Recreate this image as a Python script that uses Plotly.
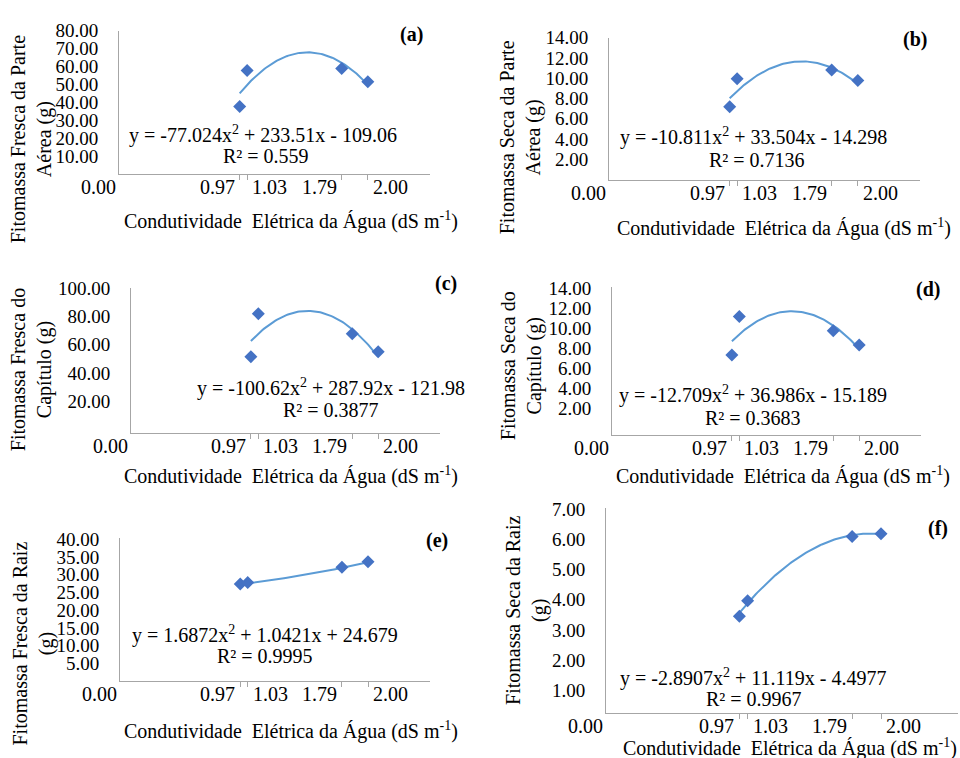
import numpy as np
import plotly.graph_objects as go

# ---------------- data ----------------
ce_x = [0.97, 1.03, 1.79, 2.00]
x_tick_text = ["0.97", "1.03", "1.79", "2.00"]

mf_parte_aerea = [37.6, 57.8, 58.9, 51.5]      # (a)
ms_parte_aerea = [7.19, 9.94, 10.82, 9.78]     # (b)
mf_capitulo = [51.5, 82.0, 67.7, 55.0]         # (c)
ms_capitulo = [7.36, 11.2, 9.77, 8.34]         # (d)
mf_raiz = [27.4, 27.8, 32.1, 33.7]             # (e)
ms_raiz = [3.45, 3.97, 6.10, 6.19]             # (f)

coef_a = [-77.024, 233.51, -109.06]
coef_b = [-10.811, 33.504, -14.298]
coef_c = [-100.62, 287.92, -121.98]
coef_d = [-12.709, 36.986, -15.189]
coef_e = [1.6872, 1.0421, 24.679]
coef_f = [-2.8907, 11.119, -4.4977]

eq_a = ["y = -77.024x<sup>2</sup> + 233.51x - 109.06", "R² = 0.559"]
eq_b = ["y = -10.811x<sup>2</sup> + 33.504x - 14.298", "R² = 0.7136"]
eq_c = ["y = -100.62x<sup>2</sup> + 287.92x - 121.98", "R² = 0.3877"]
eq_d = ["y = -12.709x<sup>2</sup> + 36.986x - 15.189", "R² = 0.3683"]
eq_e = ["y = 1.6872x<sup>2</sup> + 1.0421x + 24.679", "R² = 0.9995"]
eq_f = ["y = -2.8907x<sup>2</sup> + 11.119x - 4.4977", "R² = 0.9967"]

yt_a = [10, 20, 30, 40, 50, 60, 70, 80]
yt_b = [2, 4, 6, 8, 10, 12, 14]
yt_c = [20, 40, 60, 80, 100]
yt_d = [2, 4, 6, 8, 10, 12, 14]
yt_e = [5, 10, 15, 20, 25, 30, 35, 40]
yt_f = [1, 2, 3, 4, 5, 6, 7]

ytitle_a = "Fitomassa Fresca da Parte<br>Aérea (g)"
ytitle_b = "Fitomassa Seca da Parte<br>Aérea (g)"
ytitle_c = "Fitomassa Fresca do<br>Capítulo (g)"
ytitle_d = "Fitomassa Seca do<br>Capítulo (g)"
ytitle_e = "Fitomassa Fresca da Raiz<br>(g)"
ytitle_f = "Fitomassa Seca da Raiz<br>(g)"
xtitle = "Condutividade \u00a0Elétrica da Água (dS m<sup>-1</sup>)"
panel_tags = ["(a)", "(b)", "(c)", "(d)", "(e)", "(f)"]

# ---------------- layout geometry (pixels) ----------------
W, H = 960, 758
FONT = "'Liberation Serif', 'Times New Roman', Times, serif"
FS = 20
AXC = "#A6A6A6"
MK = "#4472C4"
LN = "#5B9BD5"

panels = [
    dict(y=mf_parte_aerea, coef=coef_a, eq=eq_a, yt=yt_a, yr=[0, 80], xr=[0, 2.5],
         px=(119, 430), py=(21, 166), yti=ytitle_a, ytp=(31, 131), xtp=(291, 213),
         eqp=(263, 126, 266, 148), tag=(411, 25)),
    dict(y=ms_parte_aerea, coef=coef_b, eq=eq_b, yt=yt_b, yr=[0, 14], xr=[0, 2.5],
         px=(609, 920), py=(28, 172), yti=ytitle_b, ytp=(520, 129), xtp=(784, 220),
         eqp=(753, 128, 757, 152), tag=(915, 30)),
    dict(y=mf_capitulo, coef=coef_c, eq=eq_c, yt=yt_c, yr=[-2.8, 100], xr=[0, 2.5],
         px=(131, 440), py=(282, 429), yti=ytitle_c, ytp=(31, 365), xtp=(291, 472),
         eqp=(331, 383, 331, 405), tag=(446, 277)),
    dict(y=ms_capitulo, coef=coef_d, eq=eq_d, yt=yt_d, yr=[-0.65, 14.1], xr=[0, 2.5],
         px=(612, 921), py=(281, 431), yti=ytitle_d, ytp=(521, 361), xtp=(783, 472),
         eqp=(753, 390, 753, 413), tag=(928, 283)),
    dict(y=mf_raiz, coef=coef_e, eq=eq_e, yt=yt_e, yr=[0, 40.4], xr=[0, 2.5],
         px=(120, 430), py=(535, 680), yti=ytitle_e, ytp=(34, 642), xtp=(291, 730),
         eqp=(265, 633, 265, 655), tag=(437, 538)),
    dict(y=ms_raiz, coef=coef_f, eq=eq_f, yt=yt_f, yr=[0.26, 7.03], xr=[0, 2.56],
         px=(606, 958), py=(505, 712), yti=ytitle_f, ytp=(527, 608), xtp=(790, 747),
         eqp=(753, 676, 754, 698), tag=(938, 525)),
]


def fx(p):
    return p / W


def fy(p):
    return 1 - p / H


def tfont(size=FS):
    return dict(family=FONT, size=size, color="black")


fig = go.Figure()
annotations = []
layout_axes = {}

for i, p in enumerate(panels):
    n = "" if i == 0 else str(i + 1)
    xa, ya = "x" + n, "y" + n
    # trendline drawn from the equation displayed on the chart
    xs = np.linspace(ce_x[0], ce_x[-1], 80)
    a, b, c = p["coef"]
    ys = a * xs ** 2 + b * xs + c
    fig.add_trace(go.Scatter(x=xs, y=ys, mode="lines", line=dict(color=LN, width=2),
                             xaxis=xa, yaxis=ya, showlegend=False, hoverinfo="skip"))
    fig.add_trace(go.Scatter(x=ce_x, y=p["y"], mode="markers",
                             marker=dict(symbol="diamond", size=10, color=MK),
                             xaxis=xa, yaxis=ya, showlegend=False))

    layout_axes["xaxis" + n] = dict(
        domain=[fx(p["px"][0]), fx(p["px"][1])], range=p["xr"], anchor=ya,
        showline=True, linecolor=AXC, linewidth=1, showgrid=False, zeroline=False,
        tickvals=ce_x, ticks="outside", ticklen=5, tickcolor=AXC, showticklabels=False,
    )
    layout_axes["yaxis" + n] = dict(
        domain=[fy(p["py"][1]), fy(p["py"][0])], range=p["yr"], anchor=xa,
        showline=True, linecolor=AXC, linewidth=1, showgrid=False, zeroline=False,
        tickvals=p["yt"], ticktext=["%.2f" % v for v in p["yt"]],
        ticks="outside", ticklen=16, tickcolor="rgba(0,0,0,0)",
        tickfont=tfont(19),
    )

    ybot = fy(p["py"][1])
    # x tick labels (Excel-style, beside the tick marks)
    annotations.append(dict(x=0, y=ybot, xref=xa, yref="paper", text="0.00",
                            xanchor="right", yanchor="middle", yshift=-13, xshift=-1,
                            showarrow=False, font=tfont()))
    for xv, txt, side in zip(ce_x, x_tick_text, ["right", "left", "right", "left"]):
        annotations.append(dict(x=xv, y=ybot, xref=xa, yref="paper", text=txt,
                                xanchor=side, yanchor="middle", yshift=-13,
                                xshift=-3 if side == "right" else 3,
                                showarrow=False, font=tfont()))
    # equation and R²
    ex1, ey1, ex2, ey2 = p["eqp"]
    annotations.append(dict(x=fx(ex1), y=fy(ey1), xref="paper", yref="paper", text=p["eq"][0],
                            xanchor="center", yanchor="middle", showarrow=False, font=tfont()))
    annotations.append(dict(x=fx(ex2), y=fy(ey2), xref="paper", yref="paper", text=p["eq"][1],
                            xanchor="center", yanchor="middle", showarrow=False, font=tfont()))
    # y title
    annotations.append(dict(x=fx(p["ytp"][0]), y=fy(p["ytp"][1]), xref="paper", yref="paper",
                            text=p["yti"], textangle=-90, xanchor="center", yanchor="middle",
                            showarrow=False, font=tfont()))
    # x title
    annotations.append(dict(x=fx(p["xtp"][0]), y=fy(p["xtp"][1]), xref="paper", yref="paper",
                            text=xtitle, xanchor="center", yanchor="middle",
                            showarrow=False, font=tfont()))
    # panel tag
    annotations.append(dict(x=fx(p["tag"][0]), y=fy(p["tag"][1]), xref="paper", yref="paper",
                            text="<b>%s</b>" % panel_tags[i], xanchor="center", yanchor="middle",
                            showarrow=False, font=tfont()))

fig.update_layout(
    width=W, height=H, margin=dict(l=0, r=0, t=0, b=0),
    plot_bgcolor="white", paper_bgcolor="white",
    font=tfont(),
    annotations=annotations, **layout_axes,
)

fig.write_html("out.html", config={"displayModeBar": False},
               post_script="document.body.style.margin='0';")
